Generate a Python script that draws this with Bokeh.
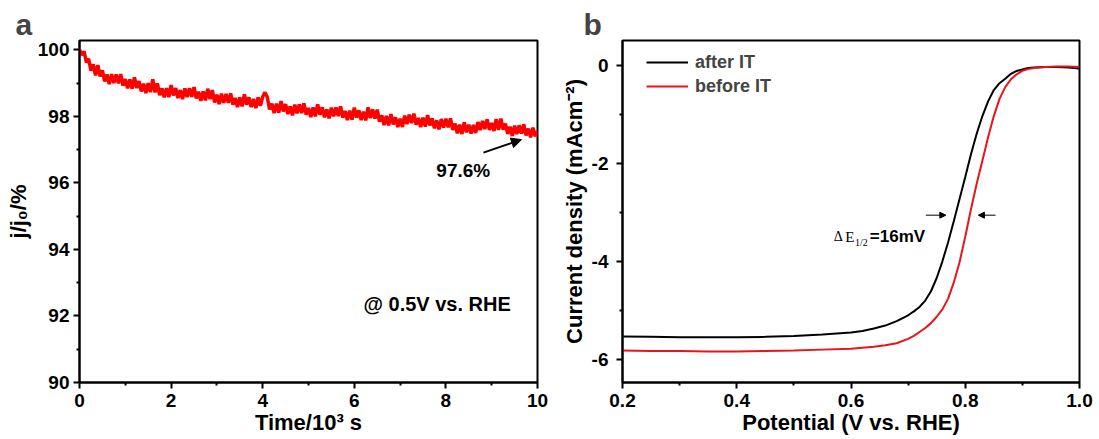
from bokeh.plotting import figure
from bokeh.layouts import row
from bokeh.models import (FixedTicker, Arrow, NormalHead, Legend, LegendItem,
                          Range1d, Title)
from bokeh.core.properties import value
from bokeh.embed import file_html
from bokeh.resources import INLINE

FONT = "Liberation Sans"
SERIF = "Liberation Serif"

# ---------------- Panel a: chronoamperometric retention ----------------
time_ks = [round(i * 0.05, 2) for i in range(201)]  # Time / 10^3 s
retention = [
    100.00, 99.84, 99.95, 99.62, 99.73, 99.37, 99.56, 99.23, 99.54, 99.20,
    99.38, 99.05, 99.26, 98.97, 99.27, 99.00, 99.26, 98.99, 99.27, 98.92,
    99.12, 98.84, 99.11, 98.83, 99.17, 98.85, 99.06, 98.75, 98.98, 98.70,
    99.00, 98.73, 99.11, 98.72, 98.99, 98.64, 98.84, 98.57, 98.85, 98.58,
    98.94, 98.63, 98.85, 98.55, 98.79, 98.52, 98.84, 98.58, 98.85, 98.59,
    98.88, 98.54, 98.74, 98.47, 98.75, 98.48, 98.83, 98.52, 98.79, 98.42,
    98.65, 98.37, 98.68, 98.41, 98.67, 98.41, 98.69, 98.35, 98.55, 98.28,
    98.57, 98.30, 98.66, 98.35, 98.57, 98.28, 98.52, 98.25, 98.57, 98.32,
    98.59, 98.72, 98.58, 98.21, 98.38, 98.10, 98.38, 98.11, 98.46, 98.15,
    98.37, 98.07, 98.30, 98.03, 98.35, 98.09, 98.36, 98.10, 98.39, 98.05,
    98.25, 97.98, 98.27, 98.00, 98.36, 98.05, 98.27, 97.97, 98.21, 97.94,
    98.26, 98.00, 98.27, 98.01, 98.30, 97.96, 98.16, 97.89, 98.17, 97.90,
    98.26, 97.96, 98.18, 97.89, 98.14, 97.88, 98.27, 97.95, 98.21, 97.93,
    98.20, 97.84, 98.03, 97.74, 98.01, 97.73, 98.07, 97.76, 97.97, 97.68,
    97.93, 97.68, 98.02, 97.77, 98.05, 97.80, 98.08, 97.75, 97.95, 97.68,
    97.96, 97.69, 98.04, 97.73, 97.94, 97.64, 97.88, 97.61, 97.92, 97.66,
    97.93, 97.67, 97.94, 97.59, 97.78, 97.49, 97.75, 97.47, 97.82, 97.52,
    97.75, 97.48, 97.74, 97.50, 97.83, 97.59, 97.86, 97.62, 97.91, 97.59,
    97.80, 97.56, 97.92, 97.59, 97.93, 97.60, 97.78, 97.47, 97.69, 97.41,
    97.72, 97.47, 97.73, 97.48, 97.76, 97.43, 97.63, 97.37, 97.66, 97.40,
    97.55,
]
a_xticks = [0, 2, 4, 6, 8, 10]
a_xtick_labels = ["0", "2", "4", "6", "8", "10"]
a_yticks = [90, 92, 94, 96, 98, 100]
a_ytick_labels = ["90", "92", "94", "96", "98", "100"]
final_label = ["97.6%"]
condition_label = ["@ 0.5V vs. RHE"]

# ---------------- Panel b: LSV before / after IT ----------------
potential = [0.20, 0.25, 0.30, 0.35, 0.40, 0.45, 0.50, 0.55, 0.60, 0.62,
             0.64, 0.66, 0.68, 0.70, 0.71, 0.72, 0.73, 0.74, 0.75, 0.76,
             0.77, 0.78, 0.79, 0.80, 0.81, 0.82, 0.83, 0.84, 0.85, 0.86,
             0.87, 0.88, 0.89, 0.90, 0.91, 0.92, 0.94, 0.96, 0.98, 1.00]
after_it = [-5.52, -5.53, -5.54, -5.54, -5.54, -5.53, -5.51, -5.48, -5.44, -5.41,
            -5.36, -5.30, -5.21, -5.09, -5.01, -4.92, -4.79, -4.60, -4.33, -3.99,
            -3.60, -3.17, -2.72, -2.27, -1.81, -1.39, -1.03, -0.73, -0.50, -0.36,
            -0.27, -0.17, -0.11, -0.08, -0.05, -0.04, -0.03, -0.03, -0.04, -0.06]
before_it = [-5.81, -5.82, -5.82, -5.83, -5.83, -5.82, -5.81, -5.79, -5.77, -5.75,
             -5.73, -5.70, -5.66, -5.57, -5.51, -5.43, -5.35, -5.25, -5.12, -4.97,
             -4.75, -4.42, -4.01, -3.49, -2.93, -2.41, -1.94, -1.46, -1.03, -0.68,
             -0.44, -0.28, -0.18, -0.11, -0.07, -0.05, -0.03, -0.02, -0.02, -0.03]
b_xticks = [0.2, 0.4, 0.6, 0.8, 1.0]
b_xtick_labels = ["0.2", "0.4", "0.6", "0.8", "1.0"]
b_yticks = [0, -2, -4, -6]
b_ytick_labels = ["0", "-2", "-4", "-6"]
series_names = ["after IT", "before IT"]
delta_label = ["=16mV"]


def style(p):
    p.xgrid.visible = False
    p.ygrid.visible = False
    p.outline_line_color = "black"
    p.outline_line_width = 2
    p.outline_line_alpha = 1
    p.background_fill_color = "white"
    p.border_fill_color = "white"
    for ax in (p.xaxis[0], p.yaxis[0]):
        ax.axis_line_width = 2
        ax.axis_line_color = "black"
        ax.major_tick_line_width = 2
        ax.major_tick_line_color = "black"
        ax.major_tick_out = 6
        ax.major_tick_in = 0
        ax.minor_tick_line_width = 2
        ax.minor_tick_line_color = "black"
        ax.minor_tick_out = 3
        ax.minor_tick_in = 0
        ax.major_label_text_font = FONT
        ax.major_label_text_font_style = "bold"
        ax.major_label_text_font_size = "19px"
        ax.major_label_text_color = "black"
        ax.axis_label_text_font = FONT
        ax.axis_label_text_font_style = "bold"
        ax.axis_label_text_font_size = "22px"
        ax.axis_label_text_color = "black"


# ---- figure a ----
pa = figure(width=549, height=439, x_range=Range1d(0, 10), y_range=Range1d(90, 100.28),
            output_backend="svg", toolbar_location=None,
            min_border_left=79, min_border_right=12, min_border_top=40, min_border_bottom=57)
style(pa)
pa.xaxis.ticker = FixedTicker(ticks=a_xticks, minor_ticks=[1, 3, 5, 7, 9])
pa.yaxis.ticker = FixedTicker(ticks=a_yticks, minor_ticks=[91, 93, 95, 97, 99])
pa.xaxis.major_label_overrides = dict(zip(a_xticks, a_xtick_labels))
pa.yaxis.major_label_overrides = dict(zip(a_yticks, a_ytick_labels))
pa.xaxis.axis_label = "Time/10³ s"
pa.yaxis.axis_label = "j/j₀/%"
pa.xaxis.major_label_standoff = 5
pa.yaxis.major_label_standoff = 4
pa.xaxis.axis_label_standoff = 0
pa.yaxis.axis_label_standoff = 4

pa.line(time_ks, retention, line_color="#ff0000", line_width=3.5)
pa.text(x=[8.38], y=[96.37], text=final_label, text_align="center", text_baseline="middle",
        text_font=value(FONT), text_font_style="bold", text_font_size="19px", text_color="black")
pa.add_layout(Arrow(x_start=8.82, y_start=96.91, x_end=9.65, y_end=97.30, line_width=2,
                    line_color="black",
                    end=NormalHead(size=10, fill_color="black", line_color="black")))
pa.text(x=[6.2], y=[92.36], text=condition_label, text_align="left", text_baseline="middle",
        text_font=value(FONT), text_font_style="bold", text_font_size="20px", text_color="black")
pa.add_layout(Title(text="a", text_font=FONT, text_font_style="bold", text_font_size="30px",
                    align="left", offset=-64, standoff=0, text_line_height=1.0), "above")

# ---- figure b ----
pb = figure(width=550, height=439, x_range=Range1d(0.2, 1.0), y_range=Range1d(-6.46, 0.51),
            output_backend="svg", toolbar_location=None,
            min_border_left=73, min_border_right=20, min_border_top=40, min_border_bottom=57)
style(pb)
pb.xaxis.ticker = FixedTicker(ticks=b_xticks, minor_ticks=[0.3, 0.5, 0.7, 0.9])
pb.yaxis.ticker = FixedTicker(ticks=b_yticks, minor_ticks=[-1, -3, -5])
pb.xaxis.major_label_overrides = dict(zip(b_xticks, b_xtick_labels))
pb.yaxis.major_label_overrides = dict(zip(b_yticks, b_ytick_labels))
pb.xaxis.axis_label = "Potential (V vs. RHE)"
pb.yaxis.axis_label = "Current density (mAcm⁻²)"
pb.xaxis.major_label_standoff = 5
pb.yaxis.major_label_standoff = 8
pb.xaxis.axis_label_standoff = 0
pb.yaxis.axis_label_standoff = 2

r_after = pb.line(potential, after_it, line_color="black", line_width=2)
r_before = pb.line(potential, before_it, line_color="#e8141b", line_width=2)

legend = Legend(items=[LegendItem(label=series_names[0], renderers=[r_after]),
                       LegendItem(label=series_names[1], renderers=[r_before])],
                location=(24, 284), border_line_alpha=0, background_fill_alpha=0,
                label_text_font=FONT, label_text_font_style="bold", label_text_font_size="18px",
                glyph_width=42, glyph_height=24, label_height=24, spacing=0, padding=0,
                margin=0, label_standoff=7)
pb.add_layout(legend)

pb.add_layout(Arrow(x_start=0.731, y_start=-3.05, x_end=0.766, y_end=-3.05, line_width=1,
                    line_color="black",
                    end=NormalHead(size=6, fill_color="black", line_color="black")))
pb.add_layout(Arrow(x_start=0.853, y_start=-3.05, x_end=0.823, y_end=-3.05, line_width=1,
                    line_color="black",
                    end=NormalHead(size=6, fill_color="black", line_color="black")))
pb.text(x=[0.570], y=[-3.49], text=["Δ"], text_align="left", text_baseline="middle",
        text_font=value(SERIF), text_font_size="14px", text_color="black")
pb.text(x=[0.590], y=[-3.49], text=["E"], text_align="left", text_baseline="middle",
        text_font=value(SERIF), text_font_size="15px", text_color="black")
pb.text(x=[0.607], y=[-3.60], text=["1/2"], text_align="left", text_baseline="middle",
        text_font=value(SERIF), text_font_size="10px", text_color="black")
pb.text(x=[0.633], y=[-3.49], text=delta_label, text_align="left", text_baseline="middle",
        text_font=value(FONT), text_font_style="bold", text_font_size="17px", text_color="black")
pb.add_layout(Title(text="b", text_font=FONT, text_font_style="bold", text_font_size="30px",
                    align="left", offset=-39, standoff=0, text_line_height=1.0), "above")

layout = row(pa, pb, spacing=0)
open("out.html", "w").write(file_html(layout, INLINE))
